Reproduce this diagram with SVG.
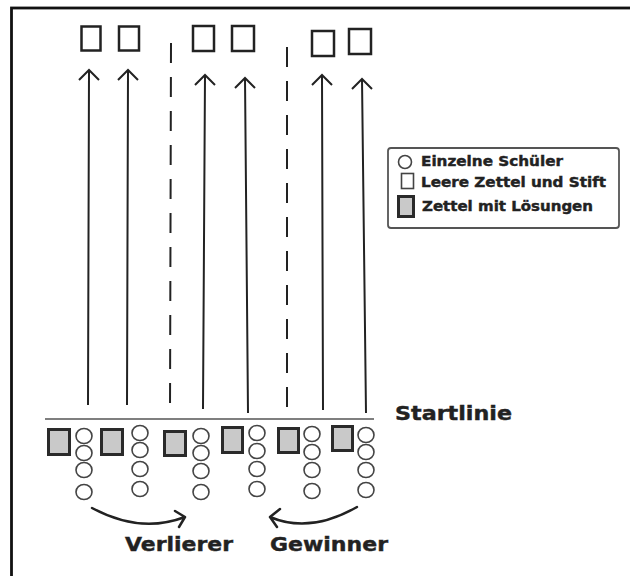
<svg xmlns="http://www.w3.org/2000/svg" width="630" height="576" viewBox="0 0 630 576">
<defs>
<style>
.frame{fill:none;stroke:#111;stroke-width:2.8}
.box{fill:#fff;stroke:#222;stroke-width:2.5}
.gbox{fill:#c9c9c9;stroke:#2a2a2a;stroke-width:3}
.stud{fill:#fff;stroke:#444;stroke-width:1.6}
.shaft{fill:none;stroke:#222;stroke-width:2}
.dash{fill:none;stroke:#222;stroke-width:2;stroke-dasharray:20 14}
.start{fill:none;stroke:#555;stroke-width:1.5}
.curve{fill:none;stroke:#222;stroke-width:2.5;stroke-linecap:round;stroke-linejoin:round}
.lbl{font-family:"DejaVu Sans",Verdana,sans-serif;font-weight:bold;fill:#222;stroke:#222;stroke-width:0.4}
.leg{fill:#fff;stroke:#555;stroke-width:1.8}
</style>
</defs>
<rect class="frame" x="11.5" y="8" width="640" height="620"/>

<g id="targets">
<rect class="box" x="81.5" y="26.5" width="19" height="24"/>
<rect class="box" x="119" y="26.5" width="20" height="24"/>
<rect class="box" x="193" y="26" width="21" height="25"/>
<rect class="box" x="232" y="26" width="22" height="25"/>
<rect class="box" x="312" y="31" width="22" height="25"/>
<rect class="box" x="349" y="29" width="22" height="25"/>
</g>

<g id="dividers">
<line class="dash" x1="171" y1="43" x2="170" y2="414"/>
<line class="dash" x1="287" y1="47" x2="287" y2="416"/>
</g>

<g id="connectors">
<g class="shaft">
<path d="M88 405 L89 70 M79 80 L89 70 L99 80"/>
<path d="M127 405 L128 70 M118 80 L128 70 L138 80"/>
<path d="M203 409 L205 75 M195 85 L205 75 L215 85"/>
<path d="M248 413 L245 78 M235 88 L245 78 L255 88"/>
<path d="M323 410 L322 75 M312 85 L322 75 L332 85"/>
<path d="M366 413 L362 79 M352 89 L362 79 L372 89"/>
</g>
<path class="curve" d="M92 508 Q140 534 185 517 M175 511 L185 517 L179 527"/>
<path class="curve" d="M357 507 Q310 534 270 517 M280 509 L270 517 L277 527"/>
</g>

<g id="startline">
<line class="start" x1="45" y1="419" x2="374" y2="419"/>
<text class="lbl" x="395" y="420" font-size="19" textLength="117" lengthAdjust="spacingAndGlyphs">Startlinie</text>
</g>

<g id="solutions">
<rect class="gbox" x="48.5" y="429.5" width="21" height="25"/>
<rect class="gbox" x="101.5" y="429.5" width="21" height="25"/>
<rect class="gbox" x="164.5" y="431.5" width="21" height="24"/>
<rect class="gbox" x="222.5" y="427.5" width="20" height="25"/>
<rect class="gbox" x="278.5" y="428.5" width="20" height="24"/>
<rect class="gbox" x="332.5" y="426.5" width="20" height="24"/>
</g>

<g id="students">
<ellipse class="stud" cx="84" cy="436" rx="8" ry="7.5"/>
<ellipse class="stud" cx="84" cy="453" rx="8" ry="7.5"/>
<ellipse class="stud" cx="84" cy="470" rx="8" ry="7.5"/>
<ellipse class="stud" cx="84" cy="492" rx="8" ry="7.5"/>
<ellipse class="stud" cx="140" cy="433" rx="8" ry="7.5"/>
<ellipse class="stud" cx="140" cy="450" rx="8" ry="7.5"/>
<ellipse class="stud" cx="140" cy="469" rx="8" ry="7.5"/>
<ellipse class="stud" cx="140" cy="489" rx="8" ry="7.5"/>
<ellipse class="stud" cx="201" cy="436" rx="8" ry="7.5"/>
<ellipse class="stud" cx="201" cy="453" rx="8" ry="7.5"/>
<ellipse class="stud" cx="201" cy="471" rx="8" ry="7.5"/>
<ellipse class="stud" cx="201" cy="492" rx="8" ry="7.5"/>
<ellipse class="stud" cx="257" cy="433" rx="8" ry="7.5"/>
<ellipse class="stud" cx="257" cy="451" rx="8" ry="7.5"/>
<ellipse class="stud" cx="257" cy="469" rx="8" ry="7.5"/>
<ellipse class="stud" cx="257" cy="489" rx="8" ry="7.5"/>
<ellipse class="stud" cx="312" cy="434" rx="8" ry="7.5"/>
<ellipse class="stud" cx="312" cy="452" rx="8" ry="7.5"/>
<ellipse class="stud" cx="312" cy="470" rx="8" ry="7.5"/>
<ellipse class="stud" cx="312" cy="491" rx="8" ry="7.5"/>
<ellipse class="stud" cx="366" cy="435" rx="8" ry="7.5"/>
<ellipse class="stud" cx="366" cy="452" rx="8" ry="7.5"/>
<ellipse class="stud" cx="366" cy="470" rx="8" ry="7.5"/>
<ellipse class="stud" cx="366" cy="490" rx="8" ry="7.5"/>
</g>

<g id="labels">
<text class="lbl" x="125" y="551" font-size="19" textLength="108" lengthAdjust="spacingAndGlyphs">Verlierer</text>
<text class="lbl" x="270" y="551" font-size="19" textLength="118" lengthAdjust="spacingAndGlyphs">Gewinner</text>
</g>

<g id="legend">
<rect class="leg" x="388" y="148" width="231" height="80" rx="3"/>
<circle class="stud" cx="405" cy="162" r="6.5"/>
<text class="lbl" x="421" y="166" font-size="13.5" stroke-width="0.3" textLength="142" lengthAdjust="spacingAndGlyphs">Einzelne Schüler</text>
<rect x="401.5" y="173.5" width="12" height="15" fill="#fff" stroke="#444" stroke-width="1.6"/>
<text class="lbl" x="421" y="187" font-size="13.5" stroke-width="0.3" textLength="185" lengthAdjust="spacingAndGlyphs">Leere Zettel und Stift</text>
<rect class="gbox" x="398.5" y="196.5" width="15" height="20" stroke-width="2.5"/>
<text class="lbl" x="422" y="211" font-size="13.5" stroke-width="0.3" textLength="171" lengthAdjust="spacingAndGlyphs">Zettel mit Lösungen</text>
</g>
</svg>
